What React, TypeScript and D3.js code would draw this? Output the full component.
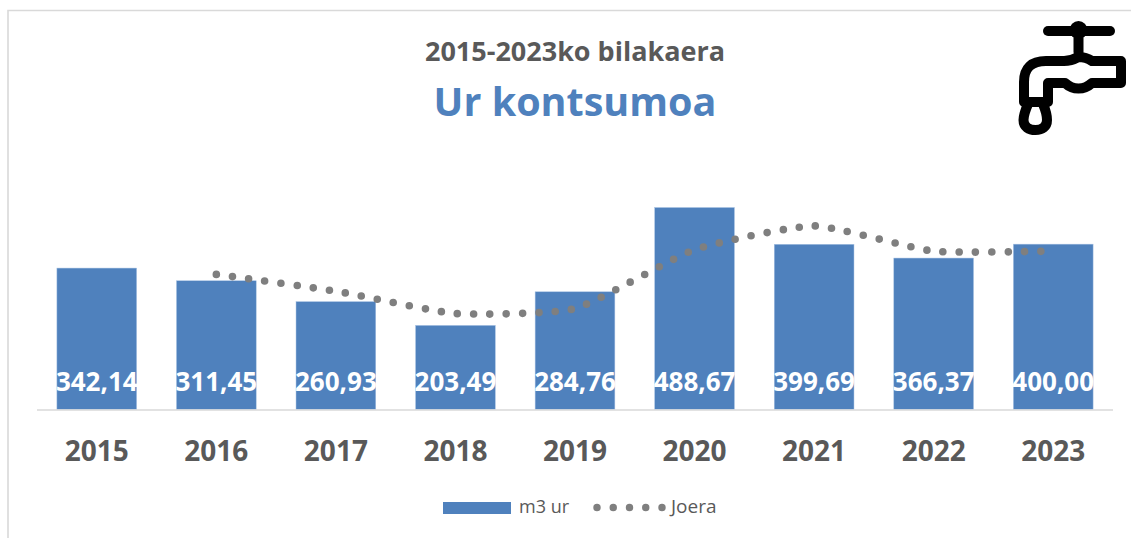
import React from "react";
import * as d3 from "d3";

const years = ["2015", "2016", "2017", "2018", "2019", "2020", "2021", "2022", "2023"];
const water = [342.14, 311.45, 260.93, 203.49, 284.76, 488.67, 399.69, 366.37, 400.0];
const labels = ["342,14", "311,45", "260,93", "203,49", "284,76", "488,67", "399,69", "366,37", "400,00"];
const trendYears = ["2016", "2017", "2018", "2019", "2020", "2021", "2022", "2023"];
const trend = [326.8, 286.2, 232.2, 244.1, 386.7, 444.2, 383.0, 383.2];

const W = 1131, H = 538;
const FONT = "'Open Sans', sans-serif";
const GREY = "#595959";
const BLUE = "#4f81bd";
const DOT = "#7f7f7f";

export default function App() {
  const x = d3.scaleBand<string>().domain(years).range([37, 1113]).paddingInner(0.333).paddingOuter(0.1665);
  const y = d3.scaleLinear().domain([0, 488.67]).range([409.5, 207.5]);
  const line = d3.line<number>()
    .x((_, i) => x(trendYears[i])! + x.bandwidth() / 2)
    .y((d) => y(d))
    .curve(d3.curveCardinal.tension(0.5));
  return (
    <svg width={W} height={H} viewBox={`0 0 ${W} ${H}`} style={{ position: "absolute", left: 0, top: 0, display: "block", background: "#fff" }}>
      <path d={`M8 ${H}V10.5H${W}`} fill="none" stroke="#d9d9d9" strokeWidth={1.6} />

      <text x={575} y={61} textAnchor="middle" fontFamily={FONT} fontWeight={700} fontSize={27} fill={GREY}>2015-2023ko bilakaera</text>
      <text x={575} y={116} textAnchor="middle" fontFamily={FONT} fontWeight={700} fontSize={39.5} fill={BLUE}>Ur kontsumoa</text>

      {water.map((v, i) => (
        <rect key={years[i]} x={x(years[i])} y={y(v)} width={x.bandwidth()} height={y(0) - y(v)} fill={BLUE} stroke="#a9c3e3" strokeWidth={0.5} />
      ))}
      <line x1={37} x2={1113} y1={410} y2={410} stroke="#d9d9d9" strokeWidth={1.5} />

      <path d={line(trend)!} fill="none" stroke={DOT} strokeWidth={7.6} strokeLinecap="round" strokeDasharray="0 16.29" />

      {labels.map((t, i) => (
        <text key={t} x={x(years[i])! + x.bandwidth() / 2} y={391} textAnchor="middle" fontFamily={FONT} fontWeight={700} fontSize={26} fill="#fff">{t}</text>
      ))}
      {years.map((t) => (
        <text key={t} x={x(t)! + x.bandwidth() / 2} y={461} textAnchor="middle" fontFamily={FONT} fontWeight={700} fontSize={28} fill={GREY}>{t}</text>
      ))}

      <rect x={443} y={502} width={68} height={12} fill={BLUE} />
      <text x={519} y={513} fontFamily={FONT} fontSize={18} fill={GREY}>m3 ur</text>
      <line x1={597} x2={665} y1={507.5} y2={507.5} stroke={DOT} strokeWidth={7.4} strokeLinecap="round" strokeDasharray="0 16.25" />
      <text x={671} y={513} fontFamily={FONT} fontSize={19} fill={GREY}>Joera</text>

      <g fill="none" stroke="#000" strokeWidth={10} strokeLinejoin="round" strokeLinecap="round">
        <path d="M1048 31H1110" />
        <path d="M1078.5 31V52" />
        <path d="M1024 102V82Q1024 61 1046 61H1064Q1071 61 1078.5 57Q1086 57 1092 61H1121V83H1092Q1086 88.5 1078.5 88.5Q1071 88.5 1065 83H1048V102Z" />
        <path d="M1028 104C1025 111 1023.5 116 1023.5 120C1023.5 127 1029 130 1035.5 130C1042 130 1047 127 1047 120C1047 116 1046 111 1043 104" />
      </g>
      <circle cx={1078.5} cy={30} r={9} fill="#000" />
    </svg>
  );
}
